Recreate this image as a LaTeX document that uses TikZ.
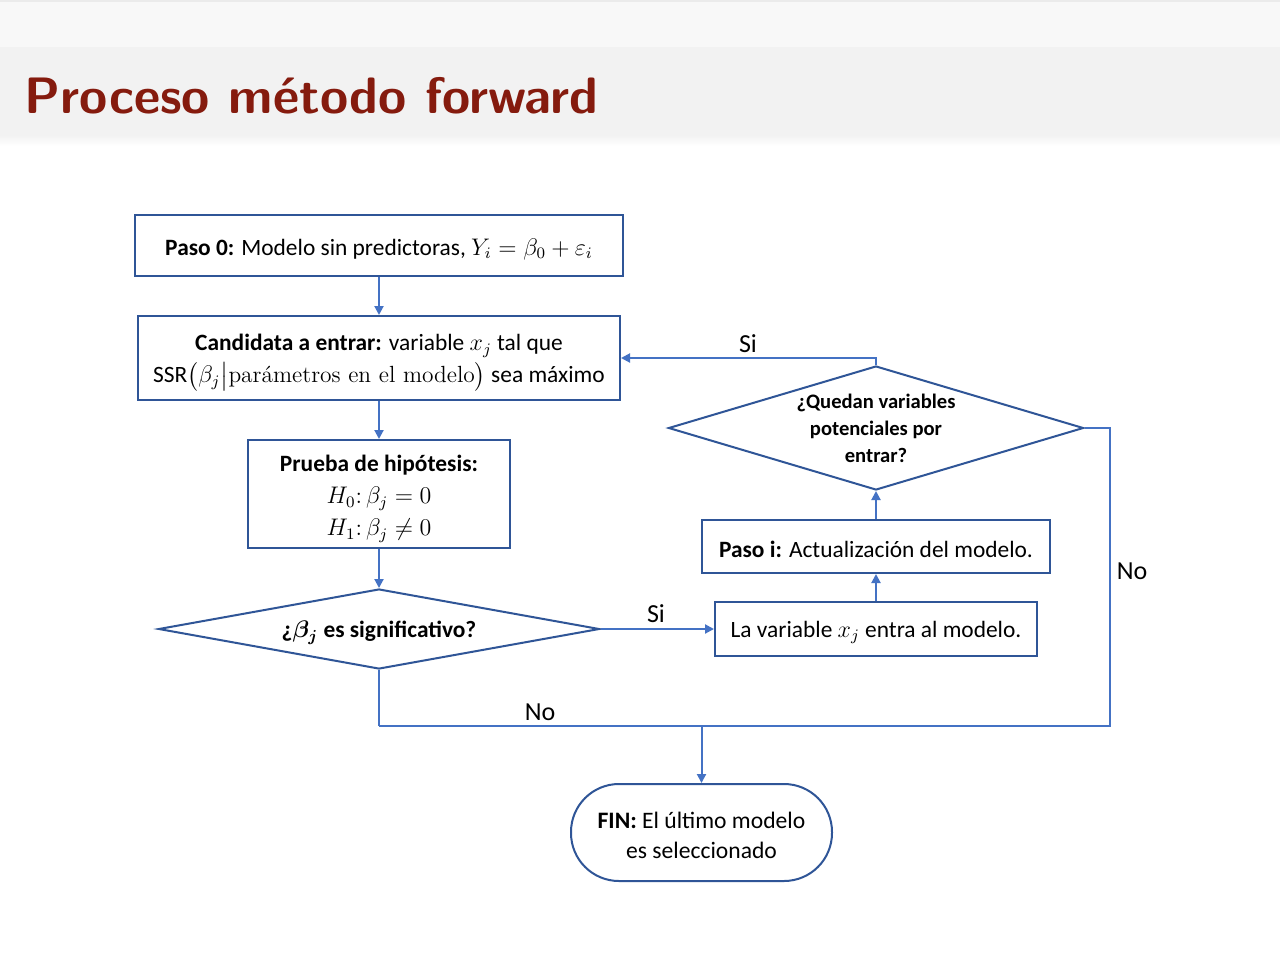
\documentclass[tikz,border=0pt]{standalone}
\usepackage{amsmath}
\usepackage{fontspec}
\usetikzlibrary{arrows.meta,shapes.geometric}
\newfontfamily\calib{Carlito}
\definecolor{titlered}{RGB}{133,27,14}
\definecolor{boxblue}{RGB}{47,85,151}
\definecolor{lineblue}{RGB}{68,114,196}
\definecolor{bandtop}{RGB}{248,248,248}
\definecolor{bandmid}{RGB}{242,242,242}
% a tall strut on the first line sets the text a little lower in its frame
\newcommand\firstlinegap[1]{\rule{0pt}{#1}}
\tikzset{
  stepbox/.style={draw=boxblue, line width=1pt, fill=white, inner sep=0pt, align=center,
    font=\calib\fontsize{11.7}{16}\selectfont},
  decision/.style={diamond, draw=boxblue, line width=1pt, fill=white, inner sep=0pt, align=center},
  endbox/.style={draw=boxblue, line width=1pt, rounded corners=24pt, inner sep=0pt, align=center,
    font=\calib\fontsize{11.8}{15}\selectfont},
  ln/.style={draw=lineblue, line width=1pt},
  arr/.style={ln, -{Triangle[length=4.5pt,width=4.5pt]}},
  lbl/.style={font=\calib\fontsize{13}{15}\selectfont, inner sep=0pt}
}
\begin{document}
\begin{tikzpicture}[x=0.5pt,y=-0.5pt]
\useasboundingbox (0,0) rectangle (1280,960);
% slide background and header band
\fill[white] (0,0) rectangle (1280,960);
\fill[bandtop] (0,0) rectangle (1280,47);
\fill[black!8] (0,0) rectangle (1280,2);
\fill[bandmid] (0,47) rectangle (1280,135);
\shade[top color=bandmid, bottom color=white] (0,135) rectangle (1280,146);
\node[anchor=base west, inner sep=0pt, text=titlered, font=\sffamily\bfseries\fontsize{25.6}{30}\selectfont]
  (title) at (24,113) {Proceso método forward};

% steps
\node[stepbox, minimum width=244pt, minimum height=30.5pt] (b0) at (379,245.5)
  {\firstlinegap{12pt}\textbf{Paso 0:} Modelo sin predictoras, $Y_i=\beta_0+\varepsilon_i$};
\node[stepbox, minimum width=241pt, minimum height=42pt] (b1) at (379,358)
  {\firstlinegap{12.8pt}\textbf{Candidata a entrar:} variable $x_j$ tal que\\
   SSR$\bigl(\beta_j\big|\text{\normalfont\rmfamily parámetros en el modelo}\bigr)$ sea máximo};
\node[stepbox, minimum width=131pt, minimum height=54pt] (b2) at (379,494)
  {\firstlinegap{12.8pt}\textbf{Prueba de hipótesis:}\\ $H_0{:}\,\beta_j=0$\\ $H_1{:}\,\beta_j\neq0$};
\node[decision, minimum width=220.5pt, minimum height=40pt, aspect=5.5,
  font=\calib\bfseries\fontsize{11.7}{14}\selectfont] (d1) at (379,629)
  {\firstlinegap{12pt}¿$\boldsymbol{\beta_j}$ es significativo?};
\node[stepbox, minimum width=161pt, minimum height=27pt] (bv) at (876,629)
  {\firstlinegap{11.5pt}La variable $x_j$ entra al modelo.};
\node[stepbox, minimum width=174pt, minimum height=26.5pt] (bp) at (876,546.5)
  {\firstlinegap{11.5pt}\textbf{Paso i:} Actualización del modelo.};
\node[decision, minimum width=207.5pt, minimum height=62pt, aspect=3.35,
  font=\calib\bfseries\fontsize{10.3}{13.5}\selectfont] (d2) at (876,428)
  {¿Quedan variables\\ potenciales por\\ entrar?};
\node[endbox, minimum width=130.5pt, minimum height=48.5pt] (fin) at (701.5,832.5)
  {\firstlinegap{10.8pt}\textbf{FIN:} El último modelo\\ es seleccionado};

% connectors
\coordinate (rc) at (1110,726);
\coordinate (lc) at (379,726);
\coordinate (jn) at (701.5,726);
\draw[arr] (b0) -- (b1);
\draw[arr] (b1) -- (b2);
\draw[arr] (b2) -- (d1);
\draw[arr] (d1.east) -- (bv.west);
\draw[arr] (bv) -- (bp);
\draw[arr] (bp) -- (d2);
\draw[arr] (d2.north) |- (b1.east);
\draw[ln] (d2.east) -| (rc) -- (lc);
\draw[ln] (d1.south) -- (lc);
\draw[arr] (jn) -- (fin.north);

% branch labels
\node[lbl] (si1) at (748,344) {Si};
\node[lbl] (si2) at (656,614) {Si};
\node[lbl] (no1) at (1132,571) {No};
\node[lbl] (no2) at (540,712) {No};
\end{tikzpicture}
\end{document}
